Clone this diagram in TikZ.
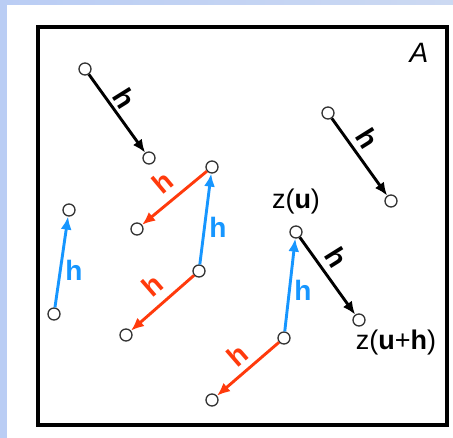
\documentclass[tikz,border=0pt]{standalone}
\usepackage{fontspec}
\setmainfont{Liberation Sans}
\usetikzlibrary{arrows.meta}
\definecolor{hred}{RGB}{255,58,12}
\definecolor{hblue}{RGB}{22,150,255}
\definecolor{bgblueL}{RGB}{186,205,244}
\definecolor{bgblueR}{RGB}{204,217,242}
\tikzset{
  pt/.style={circle, draw=black!80, fill=white, line width=1.3pt, minimum size=12pt, inner sep=0pt},
  arr/.style={line width=2.9pt, -{Latex[length=13pt,width=11pt]}},
  blk/.style={arr, draw=black},
  redarr/.style={arr, draw=hred, fill=hred},
  bluearr/.style={arr, draw=hblue, fill=hblue},
  lab/.style={font=\fontsize{28}{30}\selectfont\bfseries, inner sep=0pt},
  zlab/.style={font=\fontsize{27}{29}\selectfont, inner sep=0pt}
}
\begin{document}
\begin{tikzpicture}[x=1pt,y=-1pt]
\useasboundingbox (0,0) rectangle (453,438);
\shade[left color=bgblueL, right color=bgblueR] (0,0) rectangle (453,438);
\fill[white] (7,5) rectangle (453,438);
\draw[line width=4pt] (38,27) rectangle (447,425);
\node[font=\fontsize{28}{30}\selectfont\itshape, inner sep=0pt] (A) at (419,53) {A};
% points
\node[pt] (c1) at (85,69) {};
\node[pt] (c2) at (149,158) {};
\node[pt] (c3) at (328,113) {};
\node[pt] (c4) at (391,201) {};
\node[pt] (c5) at (212,167) {};
\node[pt] (c6) at (137,229) {};
\node[pt] (c7) at (199,271) {};
\node[pt] (c8) at (126,335) {};
\node[pt] (c9) at (54,314) {};
\node[pt] (c10) at (69,210) {};
\node[pt] (c11) at (296,232) {};
\node[pt] (c12) at (359,320) {};
\node[pt] (c13) at (284,338) {};
\node[pt] (c14) at (212,400) {};
% arrows
\draw[blk] (c1) -- (c2);
\draw[blk] (c3) -- (c4);
\draw[blk] (c11) -- (c12);
\draw[redarr] (c5) -- (c6);
\draw[redarr] (c7) -- (c8);
\draw[redarr] (c13) -- (c14);
\draw[bluearr] (c7) -- (c5);
\draw[bluearr] (c9) -- (c10);
\draw[bluearr] (c13) -- (c11);
% labels
\node[lab, rotate=-58] (h1) at (125,98) {h};
\node[lab, rotate=-58] (h2) at (368,138) {h};
\node[lab, rotate=-58] (h3) at (337,257) {h};
\node[lab, text=hred, rotate=40] (h4) at (163,182) {h};
\node[lab, text=hred, rotate=41] (h5) at (152,285) {h};
\node[lab, text=hred, rotate=41] (h6) at (237,355) {h};
\node[lab, text=hblue] (h7) at (74,270) {h};
\node[lab, text=hblue] (h8) at (218,227) {h};
\node[lab, text=hblue] (h9) at (303,290) {h};
\node[zlab] (zu) at (296,202) {z(\textbf{u})};
\node[zlab] (zuh) at (396,343) {z(\textbf{u}+\textbf{h})};
\end{tikzpicture}
\end{document}
